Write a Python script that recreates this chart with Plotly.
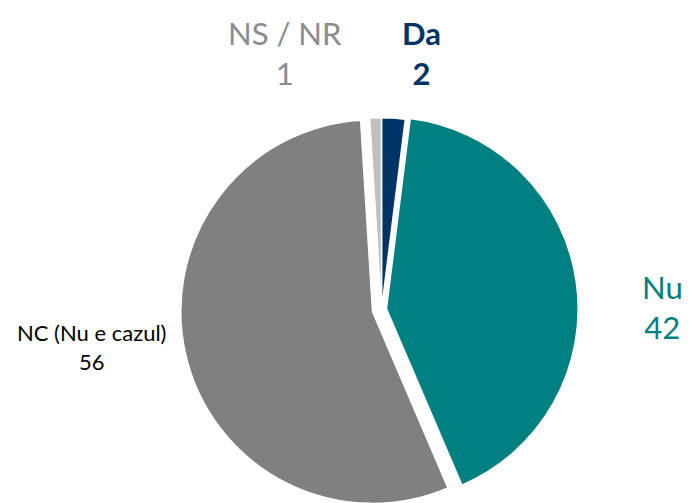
import plotly.graph_objects as go

# Data
labels = ["Da", "Nu", "NC (Nu e cazul)", "NS / NR"]
values = [2, 42, 56, 1]
slice_colors = ["#003366", "#008080", "#808080", "#BFBFBF"]
label_colors = ["#003366", "#008080", "#000000", "#8C8C8C"]
label_bold = [True, False, False, False]
pulls = [0.0, 0.026, 0.048, 0.0]

W, H = 691, 515

side = 191.75 * (2 + 2 * max(pulls))
cx, cy = 381.5, 309.5

fig = go.Figure()
fig.add_trace(go.Pie(
    labels=labels,
    values=values,
    sort=False,
    direction="clockwise",
    rotation=0,
    pull=pulls,
    marker=dict(colors=slice_colors, line=dict(color="white", width=1.5)),
    textinfo="none",
    hoverinfo="label+value",
    showlegend=False,
    domain=dict(x=[(cx - side / 2) / W, (cx + side / 2) / W],
                y=[1 - (cy + side / 2) / H, 1 - (cy - side / 2) / H]),
))

# label positions (pixel centres) and font sizes
label_pos = [(421, 53), (662, 307), (91, 347), (285, 53)]
label_size = [31, 31, 22, 31]
for lab, val, col, b, (px, py), fs in zip(labels, values, label_colors, label_bold, label_pos, label_size):
    txt = f"{lab}<br>{val}"
    if b:
        txt = f"<b>{lab}</b><br><b>{val}</b>"
    fig.add_annotation(
        x=px / W, y=1 - py / H, xref="paper", yref="paper",
        text=txt, showarrow=False, xanchor="center", yanchor="middle",
        align="center", font=dict(family="Lato", size=fs, color=col),
    )

fig.update_layout(
    width=W, height=H,
    margin=dict(l=0, r=0, t=0, b=0),
    paper_bgcolor="white", plot_bgcolor="white",
    font=dict(family="Lato"),
)

fig.write_html(
    "out.html",
    config={"displayModeBar": False},
    post_script="document.body.style.margin='0';document.body.style.overflow='hidden';document.documentElement.style.overflow='hidden';",
)
